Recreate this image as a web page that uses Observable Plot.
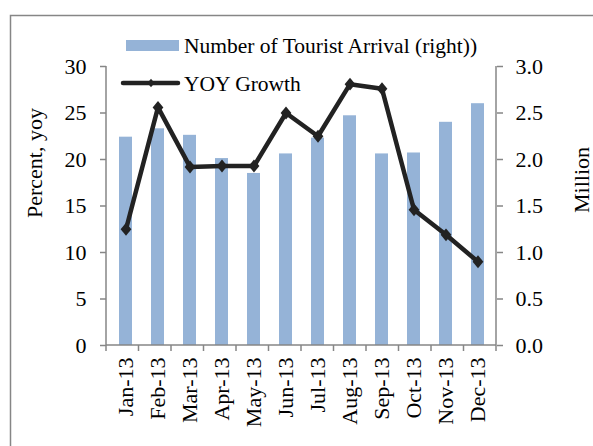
<!DOCTYPE html>
<html>
<head>
<meta charset="utf-8">
<script src="https://cdn.jsdelivr.net/npm/d3@7"></script>
<script src="https://cdn.jsdelivr.net/npm/@observablehq/plot@0.6"></script>
<style>
  html, body { margin: 0; padding: 0; background: #fff; }
  svg { display: block; }
</style>
</head>
<body>
<div id="chart"></div>
<script>
const months = ["Jan-13","Feb-13","Mar-13","Apr-13","May-13","Jun-13","Jul-13","Aug-13","Sep-13","Oct-13","Nov-13","Dec-13"];
const yoyGrowth = [12.5, 25.6, 19.2, 19.3, 19.3, 25.0, 22.5, 28.1, 27.6, 14.6, 11.9, 9.0];
const touristArrivals = [2.24, 2.33, 2.26, 2.01, 1.85, 2.06, 2.23, 2.47, 2.06, 2.07, 2.40, 2.60];
const leftTicks = [0, 5, 10, 15, 20, 25, 30];
const rightTicks = [0, 0.5, 1.0, 1.5, 2.0, 2.5, 3.0];
const barLabel = "Number of Tourist Arrival (right))";
const lineLabel = "YOY Growth";
const leftTitle = "Percent, yoy";
const rightTitle = "Million";

const RATIO = 10; // right axis (million) -> left axis (percent)
const data = months.map((m, i) => ({month: m, growth: yoyGrowth[i], arrivals: touristArrivals[i]}));

const W = 593, H = 446, ML = 106, MR = 97, MT = 66, MB = 101;
const FONT = "'Liberation Serif', 'Times New Roman', serif";
const GREY = "#868686";
const BAR = "#95B3D7";
const LINE = "#222222";

const diamond = {
  draw(ctx, size) {
    const a = Math.sqrt(size / 2.4), b = 1.2 * a;
    ctx.moveTo(0, -b); ctx.lineTo(a, 0); ctx.lineTo(0, b); ctx.lineTo(-a, 0); ctx.closePath();
  }
};

function decorations() {
  const g = d3.create("svg:g").attr("font-family", FONT).attr("font-size", 22).attr("text-anchor", "start");
  // outer chart border (left/top visible)
  g.append("path").attr("d", `M10.5,${H}V15.5H${W}`).attr("fill", "none").attr("stroke", GREY).attr("stroke-width", 1.5);
  const x0 = ML, x1 = W - MR, y0 = MT, y1 = H - MB;
  const axis = g.append("g").attr("stroke", GREY).attr("stroke-width", 1.5).attr("fill", "none");
  axis.append("line").attr("x1", x0).attr("x2", x0).attr("y1", y0).attr("y2", y1);
  axis.append("line").attr("x1", x1).attr("x2", x1).attr("y1", y0).attr("y2", y1);
  axis.append("line").attr("x1", x0).attr("x2", x1).attr("y1", y1).attr("y2", y1);
  const step = (x1 - x0) / months.length;
  for (let i = 0; i <= months.length; i++) {
    const x = x0 + i * step;
    axis.append("line").attr("x1", x).attr("x2", x).attr("y1", y1).attr("y2", y1 + 6);
  }
  // axis titles
  g.append("text").attr("transform", `translate(42,163) rotate(-90)`).attr("text-anchor", "middle")
    .attr("fill", "#000").text(leftTitle);
  g.append("text").attr("transform", `translate(589,180) rotate(-90)`).attr("text-anchor", "middle")
    .attr("fill", "#000").text(rightTitle);
  // legend
  const lg = g.append("g").attr("fill", "#000").attr("text-anchor", "start").attr("font-size", 21.5);
  lg.append("rect").attr("x", 126).attr("y", 40).attr("width", 53).attr("height", 11).attr("fill", BAR);
  lg.append("text").attr("x", 184).attr("y", 53).text(barLabel);
  lg.append("line").attr("x1", 123).attr("x2", 178).attr("y1", 83).attr("y2", 83)
    .attr("stroke", LINE).attr("stroke-width", 4.5).attr("stroke-linecap", "round");
  lg.append("path").attr("d", d3.symbol(diamond, 30)()).attr("transform", "translate(151,83)").attr("fill", LINE);
  lg.append("text").attr("x", 184).attr("y", 91).text(lineLabel);
  return g.node();
}

const chart = Plot.plot({
  width: W, height: H,
  marginLeft: ML, marginRight: MR, marginTop: MT, marginBottom: MB,
  style: {fontFamily: FONT, fontSize: "22px", background: "#fff", color: "#000", overflow: "visible"},
  x: {domain: months, paddingInner: 0.6, paddingOuter: 0.3, label: null},
  y: {domain: [0, 30], label: null},
  marks: [
    Plot.barY(data, {x: "month", y: d => d.arrivals * RATIO, fill: BAR}),
    Plot.lineY(data, {x: "month", y: "growth", stroke: LINE, strokeWidth: 4.5, strokeLinejoin: "round"}),
    Plot.dot(data, {x: "month", y: "growth", symbol: diamond, r: 4.7, fill: LINE, stroke: null}),
    Plot.axisY(leftTicks, {anchor: "left", tickSize: 6, tickPadding: 14, stroke: GREY, strokeWidth: 1.5, fill: "#000", fontSize: 22, fontFamily: FONT, label: null}),
    Plot.axisY(rightTicks.map(v => v * RATIO), {anchor: "right", tickSize: 6, tickPadding: 13, stroke: GREY, strokeWidth: 1.5, fill: "#000", fontSize: 22, fontFamily: FONT, tickFormat: d => (d / RATIO).toFixed(1), label: null}),
    Plot.axisX({anchor: "bottom", tickSize: 0, tickPadding: 12, tickRotate: -90, fill: "#000", fontSize: 22, fontFamily: FONT, label: null}),
    decorations
  ]
});
document.getElementById("chart").appendChild(chart);
</script>
</body>
</html>
